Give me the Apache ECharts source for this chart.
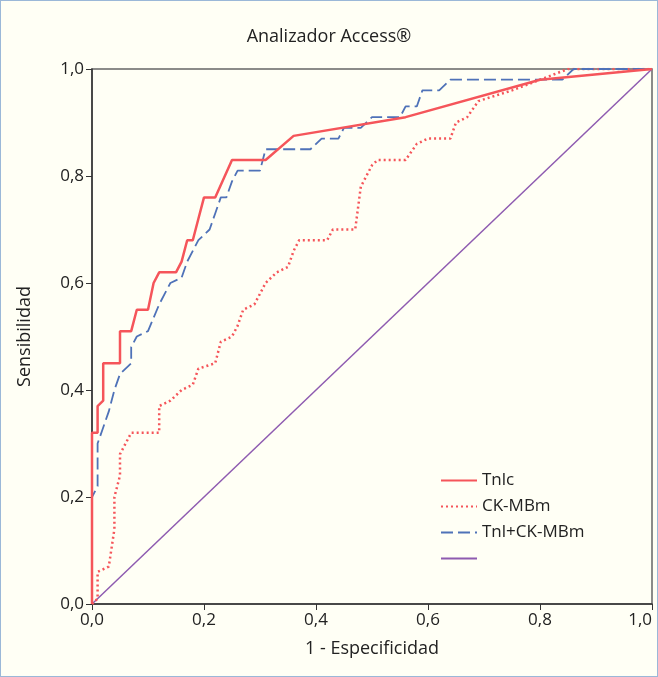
<!DOCTYPE html>
<html lang="es">
<head>
<meta charset="UTF-8">
<title>Analizador Access</title>
<script src="https://cdn.jsdelivr.net/npm/echarts@6/dist/echarts.min.js"></script>
<style>
  html, body { margin: 0; padding: 0; background: #fffff5; }
  #chart { width: 656px; height: 675px; border: 1px solid #9bb8d8; }
</style>
</head>
<body>
<div id="chart"></div>
<script>
// curva ROC: [1 - especificidad, sensibilidad]
var tnlc = [[0,0],[0,0.32],[0.01,0.32],[0.01,0.37],[0.02,0.38],[0.02,0.45],[0.05,0.45],[0.05,0.51],[0.07,0.51],[0.08,0.55],[0.1,0.55],[0.11,0.6],[0.12,0.62],[0.15,0.62],[0.16,0.64],[0.17,0.68],[0.18,0.68],[0.19,0.72],[0.2,0.76],[0.22,0.76],[0.25,0.83],[0.31,0.83],[0.36,0.875],[0.56,0.91],[0.8,0.98],[1,1]];
var ckmbm = [[0,0],[0.01,0.01],[0.01,0.06],[0.03,0.07],[0.04,0.14],[0.04,0.2],[0.05,0.24],[0.05,0.28],[0.06,0.3],[0.07,0.32],[0.12,0.32],[0.12,0.37],[0.14,0.38],[0.16,0.4],[0.18,0.41],[0.19,0.44],[0.22,0.45],[0.23,0.49],[0.25,0.5],[0.26,0.52],[0.27,0.55],[0.29,0.56],[0.3,0.58],[0.31,0.6],[0.33,0.62],[0.35,0.63],[0.36,0.66],[0.37,0.68],[0.42,0.68],[0.43,0.7],[0.47,0.7],[0.48,0.78],[0.5,0.82],[0.51,0.83],[0.56,0.83],[0.58,0.86],[0.6,0.87],[0.64,0.87],[0.65,0.9],[0.67,0.91],[0.69,0.94],[0.72,0.95],[0.75,0.96],[0.8,0.98],[0.85,1],[1,1]];
var tnlck = [[0,0],[0,0.13],[0,0.2],[0.01,0.22],[0.01,0.3],[0.02,0.33],[0.03,0.36],[0.04,0.4],[0.05,0.43],[0.07,0.45],[0.07,0.48],[0.08,0.5],[0.1,0.51],[0.12,0.56],[0.13,0.58],[0.14,0.6],[0.16,0.61],[0.17,0.64],[0.18,0.66],[0.19,0.68],[0.21,0.7],[0.22,0.73],[0.23,0.76],[0.24,0.76],[0.25,0.79],[0.26,0.81],[0.3,0.81],[0.31,0.85],[0.39,0.85],[0.41,0.87],[0.44,0.87],[0.45,0.89],[0.48,0.89],[0.5,0.91],[0.55,0.91],[0.56,0.93],[0.58,0.93],[0.59,0.96],[0.62,0.96],[0.64,0.98],[0.84,0.98],[0.86,1],[1,1]];
var diagonal = [[0,0],[1,1]];

var fmt = function (v) { return v.toFixed(1).replace('.', ','); };
var font = 'Open Sans, Noto Sans, sans-serif';

var chart = echarts.init(document.getElementById('chart'));
chart.setOption({
    backgroundColor: '#fffff5',
    animation: false,
    title: {
        text: 'Analizador Access®', left: 'center', top: 22,
        textStyle: { fontSize: 18, fontWeight: 'normal', color: '#222', fontFamily: font }
    },
    legend: {
        orient: 'vertical', left: 434, top: 466, itemGap: 9, itemWidth: 36, itemHeight: 12,
        itemStyle: { opacity: 0 },
        textStyle: { fontSize: 17, color: '#222', fontFamily: font },
        data: ['Tnlc', 'CK-MBm', 'Tnl+CK-MBm', ' ']
    },
    grid: { left: 91, right: 5, top: 68, bottom: 72, outerBoundsMode: 'none', show: true, borderColor: '#666', borderWidth: 1.5, backgroundColor: 'transparent' },
    xAxis: {
        type: 'value', min: 0, max: 1, interval: 0.2,
        name: '1 - Especificidad', nameLocation: 'middle', nameGap: 36,
        nameTextStyle: { fontSize: 18, color: '#222', fontFamily: font },
        axisLine: { lineStyle: { color: '#333', width: 1.5 } },
        axisTick: { length: 6, lineStyle: { color: '#333' } },
        axisLabel: { formatter: fmt, fontSize: 17, color: '#222', fontFamily: font, alignMaxLabel: 'right' },
        splitLine: { show: false }
    },
    yAxis: {
        type: 'value', min: 0, max: 1, interval: 0.2,
        name: 'Sensibilidad', nameLocation: 'middle', nameGap: 58,
        nameTextStyle: { fontSize: 18, color: '#222', fontFamily: font },
        axisLine: { show: true, lineStyle: { color: '#333', width: 1.5 } },
        axisTick: { show: true, length: 6, lineStyle: { color: '#333' } },
        axisLabel: { formatter: fmt, fontSize: 17, color: '#222', fontFamily: font },
        splitLine: { show: false }
    },
    series: [
        { name: 'Tnlc', type: 'line', data: tnlc, symbol: 'none', z: 4,
          lineStyle: { color: '#f5555a', width: 2.5 }, itemStyle: { color: '#f5555a' } },
        { name: 'CK-MBm', type: 'line', data: ckmbm, symbol: 'none', z: 3,
          lineStyle: { color: '#f5555a', width: 2.5, type: [2, 3] }, itemStyle: { color: '#f5555a' } },
        { name: 'Tnl+CK-MBm', type: 'line', data: tnlck, symbol: 'none', z: 3,
          lineStyle: { color: '#4f72b8', width: 1.8, type: [12, 5] }, itemStyle: { color: '#4f72b8' } },
        { name: ' ', type: 'line', data: diagonal, symbol: 'none', z: 2,
          lineStyle: { color: '#8e5bb0', width: 1.5 }, itemStyle: { color: '#8e5bb0' } }
    ]
});
</script>
</body>
</html>
